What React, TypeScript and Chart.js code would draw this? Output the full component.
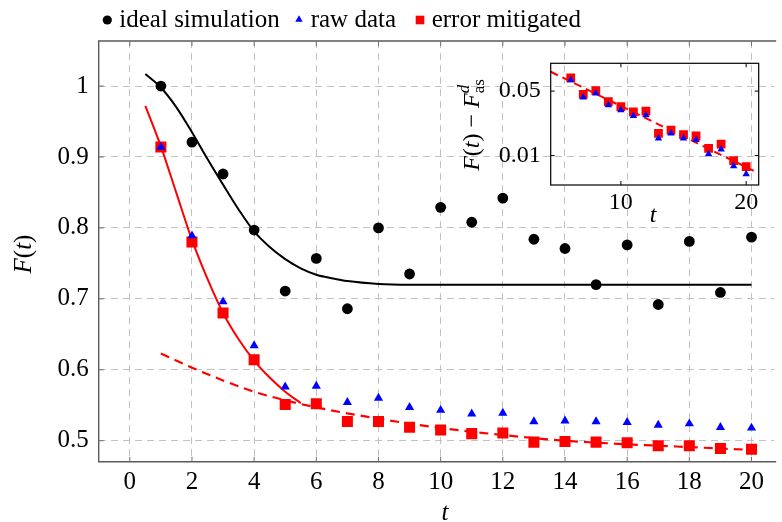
import React, { useEffect, useRef } from 'react';
import { Chart, registerables } from 'chart.js';

Chart.register(...registerables);

// ---------------- data ----------------
const timeSteps = [1, 2, 3, 4, 5, 6, 7, 8, 9, 10, 11, 12, 13, 14, 15, 16, 17, 18, 19, 20];
const idealSimulation = [1.0, 0.921, 0.876, 0.797, 0.711, 0.757, 0.686, 0.8, 0.735, 0.829, 0.808, 0.842, 0.784, 0.771, 0.72, 0.776, 0.692, 0.781, 0.709, 0.787];
const rawData = [0.914, 0.789, 0.696, 0.634, 0.576, 0.577, 0.554, 0.56, 0.547, 0.543, 0.538, 0.539, 0.527, 0.528, 0.527, 0.526, 0.522, 0.524, 0.519, 0.518];
const errorMitigated = [0.914, 0.78, 0.68, 0.614, 0.551, 0.552, 0.527, 0.527, 0.519, 0.515, 0.51, 0.511, 0.498, 0.499, 0.498, 0.497, 0.493, 0.493, 0.489, 0.488];

const idealFitT = [0.5, 1, 1.5, 2, 2.5, 3, 3.5, 4, 4.5, 5, 5.5, 6, 6.5, 7, 8, 9, 14, 20];
const idealFitF = [1.017, 0.998, 0.97, 0.935, 0.897, 0.861, 0.826, 0.795, 0.773, 0.756, 0.743, 0.734, 0.729, 0.725, 0.721, 0.72, 0.72, 0.72];
const mitigatedFitT = [0.5, 1, 1.5, 2, 2.5, 3, 3.5, 4, 4.5, 5, 5.5];
const mitigatedFitF = [0.972, 0.915, 0.849, 0.783, 0.728, 0.68, 0.643, 0.613, 0.589, 0.569, 0.553];
const asymptoticFitT = [1, 2, 3, 4, 5, 6, 8, 10, 12, 14, 16, 18, 20];
const asymptoticFitF = [0.623, 0.603, 0.585, 0.569, 0.557, 0.547, 0.531, 0.518, 0.508, 0.5, 0.495, 0.491, 0.487];

const xTicks = [0, 2, 4, 6, 8, 10, 12, 14, 16, 18, 20];
const yTicks = [0.5, 0.6, 0.7, 0.8, 0.9, 1];
const yTickLabels = ['0.5', '0.6', '0.7', '0.8', '0.9', '1'];

const insetT = [6, 7, 8, 9, 10, 11, 12, 13, 14, 15, 16, 17, 18, 19, 20];
const insetRaw = [0.0657, 0.0428, 0.0472, 0.0353, 0.0312, 0.0269, 0.0275, 0.0154, 0.0174, 0.0154, 0.0148, 0.0104, 0.0117, 0.0077, 0.0063];
const insetMitigated = [0.0697, 0.046, 0.0505, 0.0384, 0.0339, 0.0297, 0.0304, 0.0174, 0.0189, 0.0169, 0.0163, 0.012, 0.0133, 0.0088, 0.0076];
const insetFitT = [4.4, 20.6];
const insetFitF = [0.081, 0.00684];
const insetXTicks = [10, 20];
const insetYTicks = [0.01, 0.05];
const insetYTickLabels = ['0.01', '0.05'];

// ---------------- helpers ----------------
const FAMILY = '"Liberation Serif", "Times New Roman", serif';
const RED = '#ff0000';
const BLUE = '#0000ff';

type Part = { t: string; f: string; dy?: number; zeroAdvance?: boolean };

function partsWidth(ctx: CanvasRenderingContext2D, parts: Part[]) {
  let w = 0;
  let pending = 0;
  for (const p of parts) {
    ctx.font = p.f;
    const pw = ctx.measureText(p.t).width;
    if (p.zeroAdvance) pending = Math.max(pending, pw);
    else {
      w += Math.max(pw, pending);
      pending = 0;
    }
  }
  return w + pending;
}

function drawParts(ctx: CanvasRenderingContext2D, parts: Part[], x: number, y: number) {
  let cx = x;
  let pending = 0;
  ctx.textBaseline = 'alphabetic';
  ctx.textAlign = 'left';
  for (const p of parts) {
    ctx.font = p.f;
    const pw = ctx.measureText(p.t).width;
    ctx.fillText(p.t, cx, y + (p.dy || 0));
    if (p.zeroAdvance) pending = Math.max(pending, pw);
    else {
      cx += Math.max(pw, pending);
      pending = 0;
    }
  }
}

function drawCentered(ctx: CanvasRenderingContext2D, parts: Part[], cx: number, baseline: number) {
  const w = partsWidth(ctx, parts);
  drawParts(ctx, parts, cx - w / 2, baseline);
}

function pts(xs: number[], ys: number[]) {
  return xs.map((x, i) => ({ x, y: ys[i] }));
}

const it = (s: number) => `italic ${s}px ${FAMILY}`;
const rm = (s: number) => `${s}px ${FAMILY}`;

function fixX(h: number) {
  return (s: any) => {
    s.height = h;
    s.paddingLeft = 0;
    s.paddingRight = 0;
    s.paddingTop = 0;
    s.paddingBottom = 0;
  };
}
function fixY(w: number) {
  return (s: any) => {
    s.width = w;
    s.paddingLeft = 0;
    s.paddingRight = 0;
    s.paddingTop = 0;
    s.paddingBottom = 0;
  };
}

// ---------------- plugins ----------------
const mainDecor = {
  id: 'mainDecor',
  afterDraw(chart: any) {
    const { ctx, chartArea: a, scales } = chart;
    ctx.save();
    // frame
    ctx.strokeStyle = '#5a5a5a';
    ctx.lineWidth = 1.4;
    ctx.beginPath();
    ctx.moveTo(a.right + 2, a.top);
    ctx.lineTo(a.left, a.top);
    ctx.lineTo(a.left, a.bottom);
    ctx.lineTo(a.right + 2, a.bottom);
    ctx.stroke();
    // inward ticks
    ctx.strokeStyle = '#707070';
    ctx.lineWidth = 1;
    ctx.beginPath();
    for (const v of xTicks) {
      const px = scales.x.getPixelForValue(v);
      ctx.moveTo(px, a.bottom);
      ctx.lineTo(px, a.bottom - 5);
      ctx.moveTo(px, a.top);
      ctx.lineTo(px, a.top + 5);
    }
    for (const v of yTicks) {
      const py = scales.y.getPixelForValue(v);
      ctx.moveTo(a.left, py);
      ctx.lineTo(a.left + 5, py);
    }
    ctx.stroke();

    ctx.fillStyle = '#000';
    // x title
    drawCentered(ctx, [{ t: 't', f: it(25) }], 445, 520);
    // y title
    ctx.save();
    ctx.translate(31, 254);
    ctx.rotate(-Math.PI / 2);
    drawCentered(
      ctx,
      [
        { t: 'F', f: it(25) },
        { t: '(', f: rm(25) },
        { t: 't', f: it(25) },
        { t: ')', f: rm(25) },
      ],
      0,
      0
    );
    ctx.restore();

    // legend
    const lf = rm(25);
    const base = 27.3;
    ctx.fillStyle = '#000';
    ctx.beginPath();
    ctx.arc(107.3, 20, 4.6, 0, Math.PI * 2);
    ctx.fill();
    drawParts(ctx, [{ t: 'ideal simulation', f: lf }], 119.3, base);

    ctx.fillStyle = BLUE;
    const tr = 4.3;
    ctx.beginPath();
    ctx.moveTo(299, 19.5 - tr);
    ctx.lineTo(299 + tr * 0.866, 19.5 + tr / 2);
    ctx.lineTo(299 - tr * 0.866, 19.5 + tr / 2);
    ctx.closePath();
    ctx.fill();
    ctx.fillStyle = '#000';
    drawParts(ctx, [{ t: 'raw data', f: lf }], 310.7, base);

    ctx.fillStyle = RED;
    ctx.fillRect(420 - 4.3, 20 - 4.3, 8.6, 8.6);
    ctx.fillStyle = '#000';
    drawParts(ctx, [{ t: 'error mitigated', f: lf }], 431.7, base);

    ctx.restore();
  },
};

const insetDecor = {
  id: 'insetDecor',
  afterDraw(chart: any) {
    const { ctx, chartArea: a, scales } = chart;
    ctx.save();
    ctx.strokeStyle = '#000';
    ctx.lineWidth = 1.2;
    ctx.strokeRect(a.left, a.top, a.right - a.left, a.bottom - a.top);
    ctx.lineWidth = 1;
    ctx.beginPath();
    for (const v of insetXTicks) {
      const px = scales.x.getPixelForValue(v);
      ctx.moveTo(px, a.bottom);
      ctx.lineTo(px, a.bottom - 4);
      ctx.moveTo(px, a.top);
      ctx.lineTo(px, a.top + 4);
    }
    for (const v of insetYTicks) {
      const py = scales.y.getPixelForValue(v);
      ctx.moveTo(a.left, py);
      ctx.lineTo(a.left + 4, py);
      ctx.moveTo(a.right, py);
      ctx.lineTo(a.right - 4, py);
    }
    ctx.stroke();

    ctx.fillStyle = '#000';
    drawCentered(ctx, [{ t: 't', f: it(24) }], 223, 172);

    ctx.save();
    ctx.translate(49, 75);
    ctx.rotate(-Math.PI / 2);
    drawCentered(
      ctx,
      [
        { t: 'F', f: it(24) },
        { t: '(', f: rm(24) },
        { t: 't', f: it(24) },
        { t: ')', f: rm(24) },
        { t: ' \u2212 ', f: rm(24) },
        { t: 'F', f: it(24) },
        { t: 'd', f: it(17), dy: -10, zeroAdvance: true },
        { t: 'as', f: rm(17), dy: 5 },
      ],
      0,
      0
    );
    ctx.restore();
    ctx.restore();
  },
};

// ---------------- component ----------------
export default function App() {
  const mainRef = useRef<HTMLCanvasElement | null>(null);
  const insetRef = useRef<HTMLCanvasElement | null>(null);

  useEffect(() => {
    if (!mainRef.current || !insetRef.current) return;
    Chart.defaults.font.family = FAMILY;

    const tickFont = { family: FAMILY, size: 25, lineHeight: 1.2 };
    const main = new Chart(mainRef.current, {
      type: 'scatter',
      data: {
        datasets: [
          {
            label: 'raw data',
            data: pts(timeSteps, rawData),
            pointStyle: 'triangle',
            pointRadius: 5.3,
            pointBackgroundColor: BLUE,
            pointBorderWidth: 0,
            borderColor: BLUE,
          },
          {
            label: 'error mitigated',
            data: pts(timeSteps, errorMitigated),
            pointStyle: 'rect',
            pointRadius: 7.8,
            pointBackgroundColor: RED,
            pointBorderWidth: 0,
            borderColor: RED,
          },
          {
            label: 'ideal simulation',
            data: pts(timeSteps, idealSimulation),
            pointStyle: 'circle',
            pointRadius: 5.4,
            pointBackgroundColor: '#000',
            pointBorderWidth: 0,
            borderColor: '#000',
          },
          {
            label: 'ideal fit',
            data: pts(idealFitT, idealFitF),
            showLine: true,
            pointRadius: 0,
            borderColor: '#000',
            borderWidth: 2,
            cubicInterpolationMode: 'monotone',
          },
          {
            label: 'mitigated fit',
            data: pts(mitigatedFitT, mitigatedFitF),
            showLine: true,
            pointRadius: 0,
            borderColor: RED,
            borderWidth: 2,
            cubicInterpolationMode: 'monotone',
          },
          {
            label: 'asymptotic fit',
            data: pts(asymptoticFitT, asymptoticFitF),
            showLine: true,
            pointRadius: 0,
            borderColor: RED,
            borderWidth: 2.2,
            borderDash: [9, 6],
            cubicInterpolationMode: 'monotone',
          },
        ],
      } as any,
      options: {
        responsive: false,
        animation: false,
        events: [],
        layout: { padding: { top: 41, right: 0, bottom: 0, left: 0 } },
        plugins: { legend: { display: false }, tooltip: { enabled: false } },
        scales: {
          x: {
            type: 'linear',
            min: -1,
            max: 20.73,
            afterFit: fixX(60.3),
            afterBuildTicks: (s: any) => {
              s.ticks = xTicks.map((v) => ({ value: v }));
            },
            grid: { color: '#c2c2c2', lineWidth: 1, drawTicks: false },
            border: { display: false, dash: [7, 5] },
            ticks: {
              font: tickFont,
              color: '#000',
              padding: 6,
              maxRotation: 0,
              autoSkip: false,
              callback: (v: any) => String(v),
            },
          },
          y: {
            type: 'linear',
            min: 0.4704,
            max: 1.0635,
            afterFit: fixY(98.7),
            afterBuildTicks: (s: any) => {
              s.ticks = yTicks.map((v) => ({ value: v }));
            },
            grid: { color: '#c2c2c2', lineWidth: 1, drawTicks: false },
            border: { display: false, dash: [7, 5] },
            ticks: {
              font: tickFont,
              color: '#000',
              padding: 10,
              autoSkip: false,
              callback: (_v: any, i: number) => yTickLabels[i],
            },
          },
        },
      } as any,
      plugins: [mainDecor],
    });

    const insetFont = { family: FAMILY, size: 24, lineHeight: 1.2 };
    const inset = new Chart(insetRef.current, {
      type: 'scatter',
      data: {
        datasets: [
          {
            label: 'raw',
            data: pts(insetT, insetRaw),
            pointStyle: 'triangle',
            pointRadius: 4.3,
            pointBackgroundColor: BLUE,
            pointBorderWidth: 0,
            borderColor: BLUE,
          },
          {
            label: 'mitigated',
            data: pts(insetT, insetMitigated),
            pointStyle: 'rect',
            pointRadius: 6.2,
            pointBackgroundColor: RED,
            pointBorderWidth: 0,
            borderColor: RED,
          },
          {
            label: 'fit',
            data: pts(insetFitT, insetFitF),
            showLine: true,
            pointRadius: 0,
            borderColor: RED,
            borderWidth: 2,
            borderDash: [8, 5],
          },
        ],
      } as any,
      options: {
        responsive: false,
        animation: false,
        events: [],
        layout: { padding: { top: 13.3, right: 23.3, bottom: 0, left: 0 } },
        plugins: { legend: { display: false }, tooltip: { enabled: false } },
        scales: {
          x: {
            type: 'linear',
            min: 4.4,
            max: 21,
            afterFit: fixX(55),
            afterBuildTicks: (s: any) => {
              s.ticks = insetXTicks.map((v) => ({ value: v }));
            },
            grid: { display: false, drawTicks: false },
            border: { display: false },
            ticks: {
              font: insetFont,
              color: '#000',
              padding: 3,
              maxRotation: 0,
              autoSkip: false,
              callback: (v: any) => String(v),
            },
          },
          y: {
            type: 'logarithmic',
            min: 0.0048,
            max: 0.1,
            afterFit: fixY(120.7),
            afterBuildTicks: (s: any) => {
              s.ticks = insetYTicks.map((v) => ({ value: v }));
            },
            grid: { display: false, drawTicks: false },
            border: { display: false },
            ticks: {
              font: insetFont,
              color: '#000',
              padding: 10,
              autoSkip: false,
              callback: (_v: any, i: number) => insetYTickLabels[i],
            },
          },
        },
      } as any,
      plugins: [insetDecor],
    });

    return () => {
      main.destroy();
      inset.destroy();
    };
  }, []);

  return (
    <div
      style={{
        position: 'fixed',
        left: 0,
        top: 0,
        width: 782,
        height: 522,
        background: '#fff',
        overflow: 'hidden',
      }}
    >
      <canvas ref={mainRef} width={782} height={522} style={{ position: 'absolute', left: 0, top: 0, display: 'block' }} />
      <canvas ref={insetRef} width={352} height={190} style={{ position: 'absolute', left: 430, top: 50, display: 'block' }} />
    </div>
  );
}
